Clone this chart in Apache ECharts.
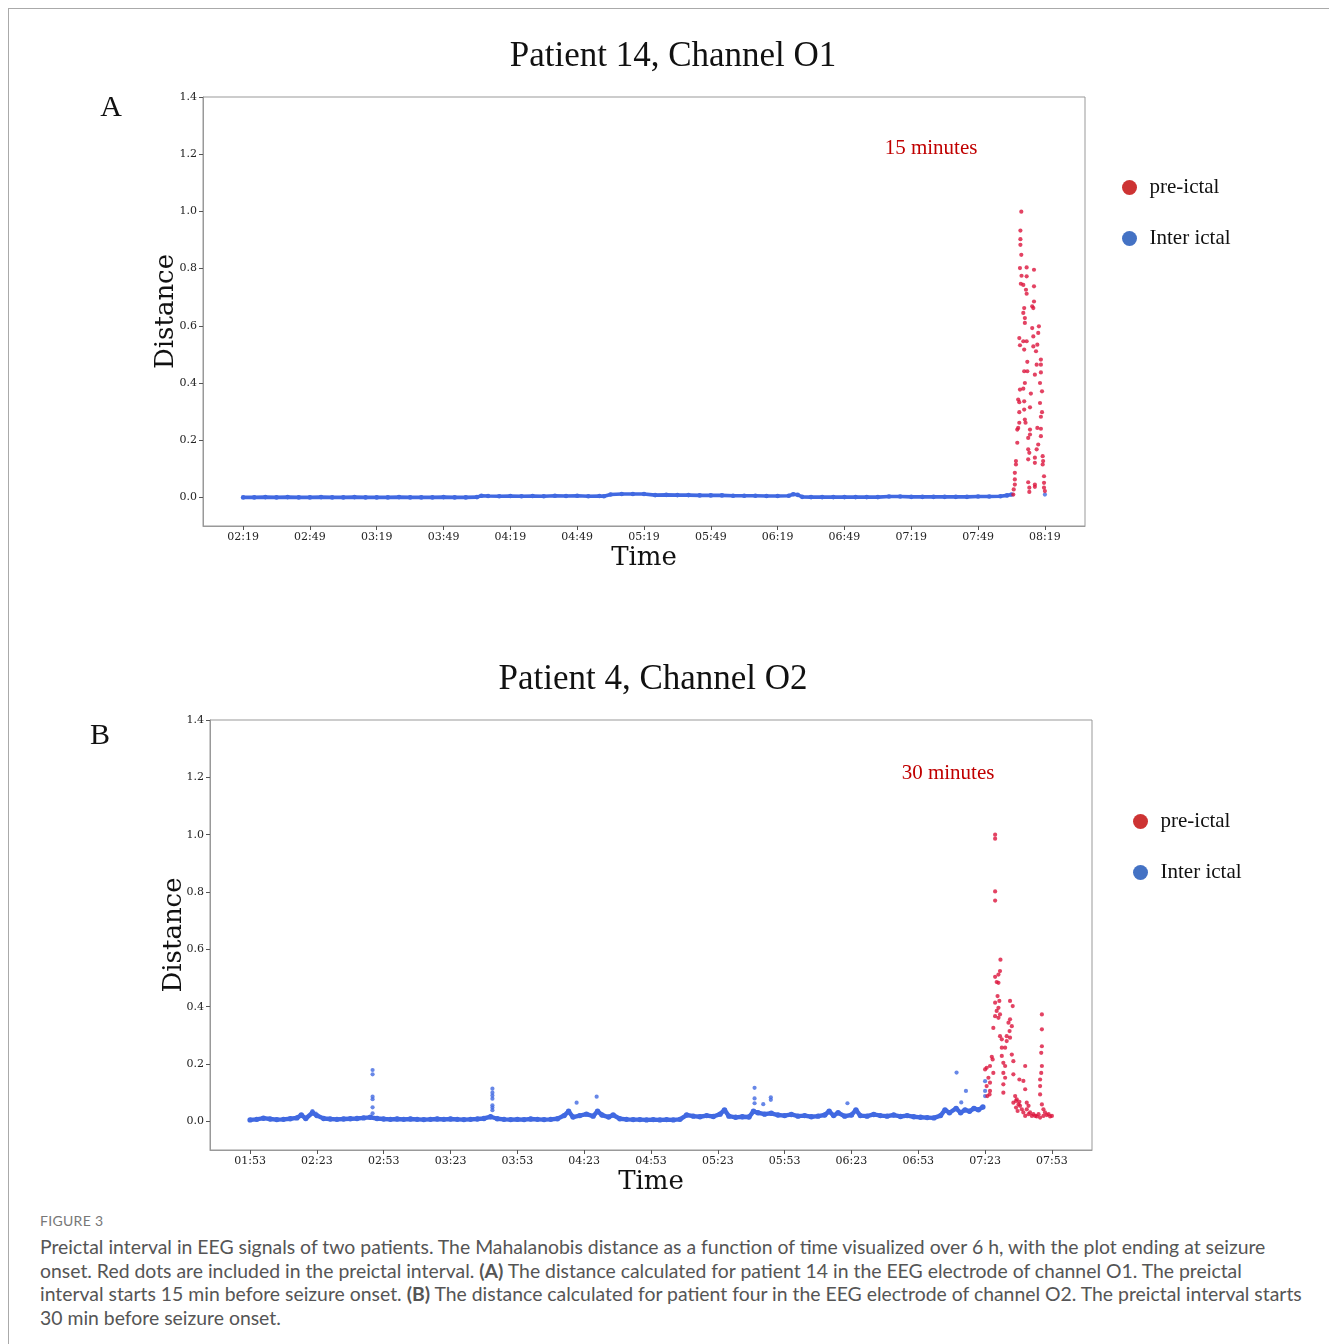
<!DOCTYPE html>
<html>
<head>
<meta charset="utf-8">
<script src="https://cdn.jsdelivr.net/npm/echarts@6/dist/echarts.min.js"></script>
<style>
  body { margin: 0; background: #fff; }
  #page { position: relative; width: 1329px; height: 1344px; overflow: hidden; }
  /* frame round the figure */
  #frame { position: absolute; left: 8px; top: 8px; width: 1340px; height: 1350px;
           border-left: 1px solid #aaa; border-top: 1px solid #aaa; }
  #chart { position: absolute; left: 0; top: 0; width: 1329px; height: 1200px; }
  #caption { position: absolute; left: 40px; top: 1211px; font-family: Lato, "Open Sans", sans-serif; color: #555; }
  #caption .fig { font-size: 14px; line-height: 20px; color: #777; letter-spacing: 0.3px; }
  #caption .txt { font-size: 19.4px; line-height: 23.5px; margin-top: 4px; white-space: nowrap; }
</style>
</head>
<body>
<div id="page">
  <div id="frame"></div>
  <div id="chart"></div>
  <div id="caption">
    <div class="fig">FIGURE 3</div>
    <div class="txt">
      Preictal interval in EEG signals of two patients. The Mahalanobis distance as a function of time visualized over 6 h, with the plot ending at seizure<br>
      onset. Red dots are included in the preictal interval. <b>(A)</b> The distance calculated for patient 14 in the EEG electrode of channel O1. The preictal<br>
      interval starts 15 min before seizure onset. <b>(B)</b> The distance calculated for patient four in the EEG electrode of channel O2. The preictal interval starts<br>
      30 min before seizure onset.
    </div>
  </div>
</div>
<script>
// x values are minutes after the first tick of each panel
const tickMinutes = [0, 30, 60, 90, 120, 150, 180, 210, 240, 270, 300, 330, 360];
const topTicks = ['02:19', '02:49', '03:19', '03:49', '04:19', '04:49', '05:19', '05:49', '06:19', '06:49', '07:19', '07:49', '08:19'];
const bottomTicks = ['01:53', '02:23', '02:53', '03:23', '03:53', '04:23', '04:53', '05:23', '05:53', '06:23', '06:53', '07:23', '07:53'];
const yTicks = [0, 0.2, 0.4, 0.6, 0.8, 1.0, 1.2, 1.4];

// Patient 14, O1 - inter ictal
const topBlue = [
  [0, 0.000], [5, 0.000], [10, 0.001], [15, 0.000], [20, 0.001], [25, 0.000], [30, 0.000], [35, 0.001],
  [40, 0.000], [45, 0.000], [50, 0.001], [55, 0.000], [60, 0.000], [65, 0.000], [70, 0.001], [75, 0.000],
  [80, 0.000], [85, 0.000], [90, 0.001], [95, 0.000], [100, 0.000], [105, 0.001], [107, 0.006], [110, 0.005],
  [115, 0.004], [120, 0.005], [125, 0.004], [130, 0.005], [135, 0.004], [140, 0.006], [145, 0.005], [150, 0.006],
  [155, 0.004], [160, 0.005], [162, 0.004], [165, 0.010], [170, 0.012], [175, 0.012], [180, 0.012], [185, 0.008],
  [190, 0.009], [195, 0.008], [200, 0.008], [205, 0.007], [210, 0.007], [215, 0.007], [220, 0.006], [225, 0.006],
  [230, 0.006], [235, 0.005], [240, 0.005], [245, 0.006], [247, 0.011], [249, 0.009], [251, 0.002], [255, 0.001],
  [260, 0.001], [265, 0.001], [270, 0.001], [275, 0.001], [280, 0.001], [285, 0.001], [290, 0.003], [295, 0.003],
  [300, 0.002], [305, 0.002], [310, 0.002], [315, 0.002], [320, 0.002], [325, 0.002], [330, 0.003], [335, 0.003],
  [340, 0.004], [343, 0.007], [345, 0.010]
];
const topBlueExtra = [[360, 0.010]];

// Patient 14, O1 - pre-ictal
const topRed = [
  [349.4, 0.999], [349.0, 0.933], [349.0, 0.903], [349.0, 0.883], [349.4, 0.848],
  [348.8, 0.802], [351.8, 0.804], [355.1, 0.796], [349.5, 0.775], [351.8, 0.773],
  [349.2, 0.747], [350.3, 0.743], [355.1, 0.738], [351.5, 0.726], [351.8, 0.712],
  [355.1, 0.685], [354.3, 0.668], [354.8, 0.662], [350.7, 0.662], [350.3, 0.645],
  [351.0, 0.627], [351.0, 0.610], [354.3, 0.592], [357.3, 0.598], [357.0, 0.575],
  [348.5, 0.557], [350.3, 0.546], [351.8, 0.546], [354.8, 0.563], [354.8, 0.528],
  [348.8, 0.532], [350.7, 0.517], [356.6, 0.534], [356.0, 0.511], [352.1, 0.474],
  [358.2, 0.482], [356.3, 0.464], [358.2, 0.464], [350.7, 0.441], [352.1, 0.441],
  [355.5, 0.429], [358.2, 0.437], [357.8, 0.400], [351.0, 0.400], [358.7, 0.371],
  [350.3, 0.380], [348.8, 0.377], [353.7, 0.363], [348.0, 0.342], [348.5, 0.333],
  [350.7, 0.336], [357.8, 0.330], [353.3, 0.315], [350.7, 0.307], [348.5, 0.298],
  [358.7, 0.298], [358.2, 0.282], [348.5, 0.261], [351.0, 0.272], [351.3, 0.261],
  [348.0, 0.243], [347.6, 0.237], [356.6, 0.243], [358.2, 0.240], [353.3, 0.237],
  [353.3, 0.220], [352.5, 0.208], [358.2, 0.214], [347.6, 0.191], [357.0, 0.185],
  [356.3, 0.168], [352.5, 0.168], [353.0, 0.156], [352.5, 0.133], [355.5, 0.139],
  [359.0, 0.144], [359.0, 0.115], [355.5, 0.121], [359.2, 0.127], [347.0, 0.127],
  [347.0, 0.115], [346.5, 0.086], [346.5, 0.063], [346.5, 0.045], [346.0, 0.028],
  [345.8, 0.010], [352.5, 0.053], [353.0, 0.034], [353.0, 0.019], [355.5, 0.045],
  [355.5, 0.037], [359.6, 0.074], [359.6, 0.051], [359.6, 0.034], [360.0, 0.022]
];

// Patient 4, O2 - inter ictal band
const bottomBlue = [
  [0, 0.005], [3, 0.007], [6, 0.011], [9, 0.008], [12, 0.006], [15, 0.007], [18, 0.009], [21, 0.012],
  [23, 0.022], [25, 0.010], [28, 0.030], [30, 0.020], [33, 0.010], [36, 0.008], [39, 0.007], [42, 0.008],
  [45, 0.009], [48, 0.010], [51, 0.012], [54, 0.014], [57, 0.010], [60, 0.008], [63, 0.007], [66, 0.008],
  [69, 0.007], [72, 0.008], [75, 0.007], [78, 0.006], [81, 0.007], [84, 0.008], [87, 0.007], [90, 0.008],
  [93, 0.007], [96, 0.006], [99, 0.007], [102, 0.008], [105, 0.010], [108, 0.016], [111, 0.009], [114, 0.007],
  [117, 0.006], [120, 0.007], [123, 0.006], [126, 0.008], [129, 0.007], [132, 0.006], [135, 0.007], [138, 0.009],
  [141, 0.020], [143, 0.035], [145, 0.015], [148, 0.020], [151, 0.025], [154, 0.018], [156, 0.035], [158, 0.022],
  [161, 0.015], [163, 0.022], [166, 0.009], [169, 0.007], [172, 0.006], [175, 0.006], [178, 0.005], [181, 0.006],
  [184, 0.005], [187, 0.006], [190, 0.005], [193, 0.007], [196, 0.022], [199, 0.018], [202, 0.016], [205, 0.020],
  [208, 0.017], [211, 0.025], [213, 0.040], [215, 0.018], [218, 0.014], [221, 0.016], [224, 0.015], [226, 0.035],
  [228, 0.030], [231, 0.025], [234, 0.028], [237, 0.022], [240, 0.020], [243, 0.024], [246, 0.018], [249, 0.020],
  [252, 0.016], [255, 0.018], [258, 0.022], [260, 0.035], [262, 0.020], [264, 0.030], [267, 0.018], [270, 0.022],
  [272, 0.040], [274, 0.020], [277, 0.018], [280, 0.024], [283, 0.020], [286, 0.018], [289, 0.022], [292, 0.017],
  [295, 0.020], [298, 0.016], [301, 0.014], [304, 0.013], [307, 0.012], [310, 0.020], [312, 0.040], [314, 0.030],
  [317, 0.045], [319, 0.030], [321, 0.040], [323, 0.035], [325, 0.045], [327, 0.040], [329, 0.050]
];
// Patient 4, O2 - inter ictal spikes
const bottomBlueExtra = [
  [28, 0.036], [29.5, 0.027], [55, 0.179], [55, 0.164], [55, 0.086], [55, 0.077], [55, 0.049], [55, 0.028],
  [108.8, 0.114], [108.8, 0.100], [108.8, 0.090], [108.8, 0.079], [108.8, 0.056], [108.8, 0.048], [108.8, 0.039],
  [146.6, 0.065], [155.6, 0.086], [226.5, 0.117], [226.5, 0.080], [226.5, 0.063], [230.4, 0.060],
  [233.8, 0.084], [233.8, 0.075], [268.2, 0.063], [317.2, 0.170], [319.3, 0.066], [321.4, 0.106],
  [330, 0.140], [330, 0.106], [330, 0.088]
];
// Patient 4, O2 - pre-ictal
const bottomRed = [
  [334.5, 1.000], [334.5, 0.986], [334.5, 0.802], [334.5, 0.770], [336.9, 0.564],
  [336.7, 0.524], [336.0, 0.512], [334.5, 0.504], [335.2, 0.486], [336.0, 0.483],
  [335.6, 0.437], [336.4, 0.420], [334.5, 0.414], [336.0, 0.396], [335.2, 0.385],
  [336.7, 0.373], [334.5, 0.367], [336.0, 0.361], [341.2, 0.420], [342.4, 0.402],
  [341.2, 0.356], [340.5, 0.344], [342.0, 0.332], [341.0, 0.315], [339.7, 0.297],
  [341.2, 0.292], [339.7, 0.280], [333.7, 0.326], [336.7, 0.297], [337.5, 0.286],
  [339.0, 0.257], [337.5, 0.257], [342.0, 0.233], [333.0, 0.225], [333.4, 0.216],
  [337.5, 0.228], [338.2, 0.204], [339.0, 0.193], [338.2, 0.169], [339.0, 0.152],
  [338.2, 0.129], [338.2, 0.100], [330.7, 0.187], [332.2, 0.193], [330.0, 0.181],
  [333.7, 0.169], [331.5, 0.152], [332.2, 0.135], [330.7, 0.123], [332.2, 0.106],
  [332.0, 0.094], [331.0, 0.088], [342.7, 0.210], [342.7, 0.164], [345.4, 0.146],
  [348.0, 0.193], [347.2, 0.141], [348.0, 0.112], [343.5, 0.088], [344.2, 0.077],
  [342.7, 0.065], [345.0, 0.059], [343.9, 0.048], [345.7, 0.054], [346.5, 0.042],
  [344.6, 0.036], [347.2, 0.031], [348.7, 0.042], [349.5, 0.025], [348.0, 0.019],
  [350.2, 0.031], [351.0, 0.019], [351.7, 0.025], [352.5, 0.019], [353.2, 0.017],
  [354.0, 0.025], [354.7, 0.013], [356.9, 0.031], [357.7, 0.022], [358.5, 0.025],
  [359.2, 0.017], [360.0, 0.019], [356.2, 0.019], [343.9, 0.071], [345.4, 0.068],
  [348.7, 0.065], [349.5, 0.054], [355.5, 0.373], [355.5, 0.321], [355.5, 0.262],
  [355.2, 0.239], [355.5, 0.193], [355.2, 0.169], [354.7, 0.146], [354.7, 0.123],
  [354.7, 0.094], [355.5, 0.059], [356.2, 0.042]
];

const BLUE = '#4169e1';
const RED = '#dc143c';
const serif = '"DejaVu Serif", serif';
const times = '"Liberation Serif", "Times New Roman", serif';

function xAxisFor(gridIndex, labels) {
  return {
    type: 'value', gridIndex: gridIndex, min: -18, max: 378,
    name: 'Time', nameLocation: 'middle', nameGap: 19, nameMoveOverlap: false,
    nameTextStyle: { fontFamily: serif, fontSize: 26, color: '#111' },
    axisLine: { onZero: false, lineStyle: { color: '#999' } },
    axisTick: { length: 4, lineStyle: { color: '#555' }, customValues: tickMinutes },
    axisLabel: {
      fontFamily: serif, fontSize: 11, color: '#222', margin: 6,
      customValues: tickMinutes,
      formatter: (v) => labels[tickMinutes.indexOf(v)]
    },
    splitLine: { show: false }
  };
}

function yAxisFor(gridIndex, gap) {
  return {
    type: 'value', gridIndex: gridIndex, min: -0.1, max: 1.4,
    name: 'Distance', nameLocation: 'middle', nameGap: gap, nameRotate: 90, nameMoveOverlap: false,
    nameTextStyle: { fontFamily: serif, fontSize: 26, color: '#111' },
    axisLine: { show: true, onZero: false, lineStyle: { color: '#999' } },
    axisTick: { show: true, length: 4, lineStyle: { color: '#555' }, customValues: yTicks },
    axisLabel: {
      fontFamily: serif, fontSize: 11, color: '#222', margin: 6,
      customValues: yTicks,
      formatter: (v) => v.toFixed(1)
    },
    splitLine: { show: false }
  };
}

function legendFor(left, top) {
  return {
    orient: 'vertical', left: left, top: top, itemGap: 30,
    itemWidth: 30, itemHeight: 15, icon: 'circle', selectedMode: false,
    textStyle: { fontFamily: times, fontSize: 21, lineHeight: 20, color: '#111' },
    data: [
      { name: 'pre-ictal', itemStyle: { color: '#c00000' } },
      { name: 'Inter ictal', itemStyle: { color: '#4472c4' } }
    ]
  };
}

function bandSeries(idx, data, width) {
  return {
    name: 'Inter ictal', type: 'line', xAxisIndex: idx, yAxisIndex: idx, data: data,
    symbol: 'circle', symbolSize: width + 1, showSymbol: true,
    lineStyle: { width: width, color: BLUE }, itemStyle: { color: BLUE }, z: 2
  };
}

function dotSeries(idx, name, color, data) {
  return {
    name: name, type: 'scatter', xAxisIndex: idx, yAxisIndex: idx, data: data,
    symbolSize: 4.2, itemStyle: { color: color }, z: 3
  };
}

const chart = echarts.init(document.getElementById('chart'));
chart.setOption({
  animation: false,
  title: [
    { text: 'Patient 14, Channel O1', left: 673, top: 39, textAlign: 'center', padding: 0,
      textStyle: { fontFamily: times, fontSize: 35, fontWeight: 'normal', color: '#111' } },
    { text: 'Patient 4, Channel O2', left: 653, top: 662, textAlign: 'center', padding: 0,
      textStyle: { fontFamily: times, fontSize: 35, fontWeight: 'normal', color: '#111' } }
  ],
  legend: [legendFor(1117, 172), legendFor(1128, 806)],
  grid: [
    { left: 203, top: 97, width: 882, height: 429, show: true, borderColor: '#999', borderWidth: 1 },
    { left: 210, top: 720, width: 882, height: 430, show: true, borderColor: '#999', borderWidth: 1 }
  ],
  xAxis: [xAxisFor(0, topTicks), xAxisFor(1, bottomTicks)],
  yAxis: [yAxisFor(0, 24), yAxisFor(1, 23)],
  graphic: [
    { type: 'text', x: 111, y: 108, style: { text: 'A', font: '30px ' + times, fill: '#111', textAlign: 'center', textVerticalAlign: 'middle', align: 'center', verticalAlign: 'middle' } },
    { type: 'text', x: 100, y: 736, style: { text: 'B', font: '30px ' + times, fill: '#111', textAlign: 'center', textVerticalAlign: 'middle', align: 'center', verticalAlign: 'middle' } },
    { type: 'text', x: 931, y: 148, style: { text: '15 minutes', font: '21px ' + times, fill: '#c00000', textAlign: 'center', textVerticalAlign: 'middle', align: 'center', verticalAlign: 'middle' } },
    { type: 'text', x: 948, y: 773, style: { text: '30 minutes', font: '21px ' + times, fill: '#c00000', textAlign: 'center', textVerticalAlign: 'middle', align: 'center', verticalAlign: 'middle' } }
  ],
  series: [
    bandSeries(0, topBlue, 3.6),
    dotSeries(0, 'Inter ictal', BLUE, topBlueExtra),
    dotSeries(0, 'pre-ictal', RED, topRed),
    bandSeries(1, bottomBlue, 4.4),
    dotSeries(1, 'Inter ictal', BLUE, bottomBlueExtra),
    dotSeries(1, 'pre-ictal', RED, bottomRed)
  ]
});
</script>
</body>
</html>
